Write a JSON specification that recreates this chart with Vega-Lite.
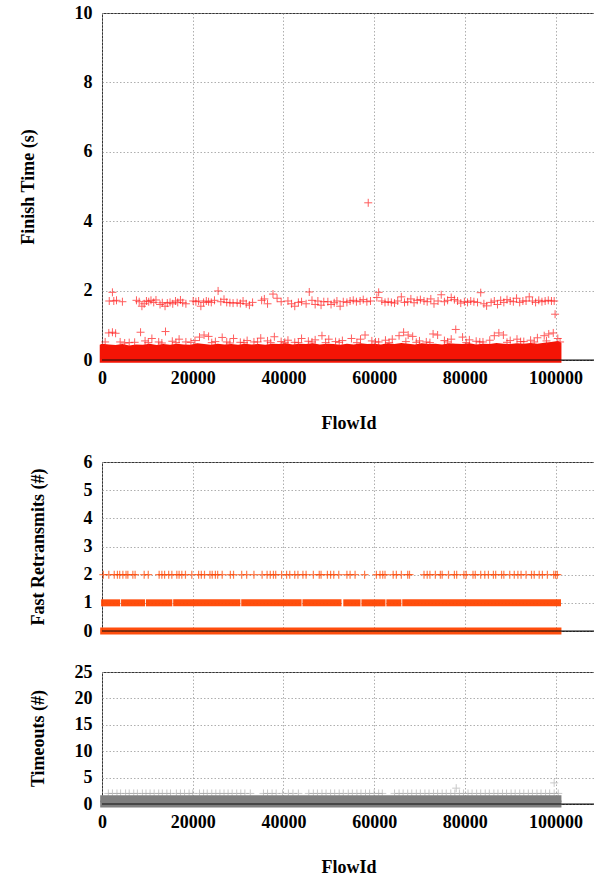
{
  "$schema": "https://vega.github.io/schema/vega-lite/v6.json",
  "padding": {"left": 18, "top": 3, "right": 0, "bottom": 0},
  "background": "white",
  "spacing": 19,
  "config": {
    "view": {"stroke": "#333", "strokeWidth": 1},
    "font": "Liberation Serif",
    "axis": {
      "labelFont": "Liberation Serif", "labelFontWeight": "bold", "labelFontSize": 18, "labelColor": "#000",
      "titleFont": "Liberation Serif", "titleFontWeight": "bold", "titleFontSize": 18, "titleColor": "#000",
      "grid": true, "gridColor": "#9a9a9a", "gridDash": [1.5, 2], "gridWidth": 0.8,
      "domain": false, "ticks": false, "labelFlush": false, "labelOverlap": false
    }
  },
  "datasets": {
    "band": [
      {"FlowId": -500, "FinishTime": 0.44}, {"FlowId": 0, "FinishTime": 0.47}, {"FlowId": 1500, "FinishTime": 0.45},
      {"FlowId": 3000, "FinishTime": 0.43}, {"FlowId": 4500, "FinishTime": 0.46}, {"FlowId": 6000, "FinishTime": 0.42},
      {"FlowId": 7500, "FinishTime": 0.45}, {"FlowId": 9000, "FinishTime": 0.44}, {"FlowId": 10500, "FinishTime": 0.47},
      {"FlowId": 12000, "FinishTime": 0.43}, {"FlowId": 13500, "FinishTime": 0.46}, {"FlowId": 15000, "FinishTime": 0.44},
      {"FlowId": 16500, "FinishTime": 0.47}, {"FlowId": 18000, "FinishTime": 0.45}, {"FlowId": 19500, "FinishTime": 0.44},
      {"FlowId": 21000, "FinishTime": 0.48}, {"FlowId": 22500, "FinishTime": 0.46}, {"FlowId": 24000, "FinishTime": 0.44},
      {"FlowId": 25500, "FinishTime": 0.47}, {"FlowId": 27000, "FinishTime": 0.45}, {"FlowId": 28500, "FinishTime": 0.46},
      {"FlowId": 30000, "FinishTime": 0.44}, {"FlowId": 31500, "FinishTime": 0.47}, {"FlowId": 33000, "FinishTime": 0.45},
      {"FlowId": 34500, "FinishTime": 0.46}, {"FlowId": 36000, "FinishTime": 0.44}, {"FlowId": 37500, "FinishTime": 0.47},
      {"FlowId": 39000, "FinishTime": 0.46}, {"FlowId": 40500, "FinishTime": 0.48}, {"FlowId": 42000, "FinishTime": 0.45},
      {"FlowId": 43500, "FinishTime": 0.47}, {"FlowId": 45000, "FinishTime": 0.46}, {"FlowId": 46500, "FinishTime": 0.48},
      {"FlowId": 48000, "FinishTime": 0.45}, {"FlowId": 49500, "FinishTime": 0.47}, {"FlowId": 51000, "FinishTime": 0.46},
      {"FlowId": 52500, "FinishTime": 0.44}, {"FlowId": 54000, "FinishTime": 0.47}, {"FlowId": 55500, "FinishTime": 0.45},
      {"FlowId": 57000, "FinishTime": 0.48}, {"FlowId": 58500, "FinishTime": 0.46}, {"FlowId": 60000, "FinishTime": 0.47},
      {"FlowId": 61500, "FinishTime": 0.45}, {"FlowId": 63000, "FinishTime": 0.48}, {"FlowId": 64500, "FinishTime": 0.46},
      {"FlowId": 66000, "FinishTime": 0.49}, {"FlowId": 67500, "FinishTime": 0.47}, {"FlowId": 69000, "FinishTime": 0.45},
      {"FlowId": 70500, "FinishTime": 0.48}, {"FlowId": 72000, "FinishTime": 0.46}, {"FlowId": 73500, "FinishTime": 0.47},
      {"FlowId": 75000, "FinishTime": 0.45}, {"FlowId": 76500, "FinishTime": 0.48}, {"FlowId": 78000, "FinishTime": 0.47},
      {"FlowId": 79500, "FinishTime": 0.46}, {"FlowId": 81000, "FinishTime": 0.48}, {"FlowId": 82500, "FinishTime": 0.45},
      {"FlowId": 84000, "FinishTime": 0.47}, {"FlowId": 85500, "FinishTime": 0.46}, {"FlowId": 87000, "FinishTime": 0.49},
      {"FlowId": 88500, "FinishTime": 0.47}, {"FlowId": 90000, "FinishTime": 0.46}, {"FlowId": 91500, "FinishTime": 0.48},
      {"FlowId": 93000, "FinishTime": 0.47}, {"FlowId": 94500, "FinishTime": 0.49}, {"FlowId": 96000, "FinishTime": 0.47},
      {"FlowId": 97500, "FinishTime": 0.5}, {"FlowId": 99000, "FinishTime": 0.52}, {"FlowId": 100500, "FinishTime": 0.55},
      {"FlowId": 101300, "FinishTime": 0.5}
    ],
    "ft": [
      {"FlowId": 1500, "FinishTime": 0.78}, {"FlowId": 2300, "FinishTime": 0.8}, {"FlowId": 3000, "FinishTime": 0.77},
      {"FlowId": 4000, "FinishTime": 0.52}, {"FlowId": 6000, "FinishTime": 0.5}, {"FlowId": 8500, "FinishTime": 0.8},
      {"FlowId": 9500, "FinishTime": 0.55}, {"FlowId": 11000, "FinishTime": 0.62}, {"FlowId": 12500, "FinishTime": 0.52},
      {"FlowId": 14000, "FinishTime": 0.82}, {"FlowId": 15500, "FinishTime": 0.54}, {"FlowId": 17000, "FinishTime": 0.6},
      {"FlowId": 18500, "FinishTime": 0.52}, {"FlowId": 20500, "FinishTime": 0.56}, {"FlowId": 21500, "FinishTime": 0.66},
      {"FlowId": 22500, "FinishTime": 0.72}, {"FlowId": 23500, "FinishTime": 0.68}, {"FlowId": 25000, "FinishTime": 0.53},
      {"FlowId": 26500, "FinishTime": 0.65}, {"FlowId": 27500, "FinishTime": 0.52}, {"FlowId": 29000, "FinishTime": 0.62},
      {"FlowId": 30500, "FinishTime": 0.51}, {"FlowId": 32000, "FinishTime": 0.56}, {"FlowId": 33500, "FinishTime": 0.52},
      {"FlowId": 35000, "FinishTime": 0.63}, {"FlowId": 36500, "FinishTime": 0.55}, {"FlowId": 38000, "FinishTime": 0.67},
      {"FlowId": 39500, "FinishTime": 0.53}, {"FlowId": 41000, "FinishTime": 0.57}, {"FlowId": 42500, "FinishTime": 0.51},
      {"FlowId": 44000, "FinishTime": 0.62}, {"FlowId": 45500, "FinishTime": 0.54}, {"FlowId": 47000, "FinishTime": 0.58},
      {"FlowId": 48500, "FinishTime": 0.7}, {"FlowId": 50000, "FinishTime": 0.6}, {"FlowId": 51500, "FinishTime": 0.53},
      {"FlowId": 53000, "FinishTime": 0.56}, {"FlowId": 55000, "FinishTime": 0.62}, {"FlowId": 57000, "FinishTime": 0.6},
      {"FlowId": 58000, "FinishTime": 0.72}, {"FlowId": 59500, "FinishTime": 0.55}, {"FlowId": 61000, "FinishTime": 0.52},
      {"FlowId": 62500, "FinishTime": 0.57}, {"FlowId": 64000, "FinishTime": 0.6}, {"FlowId": 65500, "FinishTime": 0.7},
      {"FlowId": 66500, "FinishTime": 0.8}, {"FlowId": 67500, "FinishTime": 0.72}, {"FlowId": 68500, "FinishTime": 0.68},
      {"FlowId": 70000, "FinishTime": 0.55}, {"FlowId": 71500, "FinishTime": 0.52}, {"FlowId": 73000, "FinishTime": 0.75},
      {"FlowId": 74000, "FinishTime": 0.72}, {"FlowId": 75500, "FinishTime": 0.56}, {"FlowId": 77000, "FinishTime": 0.6},
      {"FlowId": 78000, "FinishTime": 0.88}, {"FlowId": 79500, "FinishTime": 0.66}, {"FlowId": 81000, "FinishTime": 0.58},
      {"FlowId": 82500, "FinishTime": 0.54}, {"FlowId": 84000, "FinishTime": 0.52}, {"FlowId": 85500, "FinishTime": 0.57},
      {"FlowId": 86500, "FinishTime": 0.7}, {"FlowId": 87500, "FinishTime": 0.78}, {"FlowId": 88500, "FinishTime": 0.72},
      {"FlowId": 90000, "FinishTime": 0.56}, {"FlowId": 91500, "FinishTime": 0.6}, {"FlowId": 93000, "FinishTime": 0.53},
      {"FlowId": 94500, "FinishTime": 0.57}, {"FlowId": 96000, "FinishTime": 0.64}, {"FlowId": 97500, "FinishTime": 0.7},
      {"FlowId": 98500, "FinishTime": 0.75}, {"FlowId": 99500, "FinishTime": 0.78}, {"FlowId": 100500, "FinishTime": 0.62},
      {"FlowId": 700, "FinishTime": 0.52}, {"FlowId": 5000, "FinishTime": 0.49}, {"FlowId": 7200, "FinishTime": 0.51},
      {"FlowId": 10200, "FinishTime": 0.5}, {"FlowId": 13200, "FinishTime": 0.49}, {"FlowId": 16300, "FinishTime": 0.5},
      {"FlowId": 19600, "FinishTime": 0.51}, {"FlowId": 24200, "FinishTime": 0.5}, {"FlowId": 28200, "FinishTime": 0.49},
      {"FlowId": 31300, "FinishTime": 0.5}, {"FlowId": 34300, "FinishTime": 0.52}, {"FlowId": 37200, "FinishTime": 0.5},
      {"FlowId": 40300, "FinishTime": 0.51}, {"FlowId": 43300, "FinishTime": 0.5}, {"FlowId": 46300, "FinishTime": 0.52},
      {"FlowId": 49300, "FinishTime": 0.5}, {"FlowId": 52300, "FinishTime": 0.51}, {"FlowId": 56200, "FinishTime": 0.5},
      {"FlowId": 60300, "FinishTime": 0.52}, {"FlowId": 63300, "FinishTime": 0.5}, {"FlowId": 67000, "FinishTime": 0.53},
      {"FlowId": 69300, "FinishTime": 0.51}, {"FlowId": 72300, "FinishTime": 0.5}, {"FlowId": 76200, "FinishTime": 0.52},
      {"FlowId": 80300, "FinishTime": 0.5}, {"FlowId": 83300, "FinishTime": 0.52}, {"FlowId": 89300, "FinishTime": 0.51},
      {"FlowId": 92300, "FinishTime": 0.53}, {"FlowId": 95300, "FinishTime": 0.52}, {"FlowId": 98000, "FinishTime": 0.55},
      {"FlowId": 101000, "FinishTime": 0.52},
      {"FlowId": 1600, "FinishTime": 1.7}, {"FlowId": 2300, "FinishTime": 1.95}, {"FlowId": 2600, "FinishTime": 1.7},
      {"FlowId": 3200, "FinishTime": 1.72}, {"FlowId": 4500, "FinishTime": 1.68}, {"FlowId": 7600, "FinishTime": 1.72},
      {"FlowId": 8200, "FinishTime": 1.68}, {"FlowId": 8800, "FinishTime": 1.55}, {"FlowId": 9300, "FinishTime": 1.62},
      {"FlowId": 9800, "FinishTime": 1.7}, {"FlowId": 10300, "FinishTime": 1.68}, {"FlowId": 10800, "FinishTime": 1.72},
      {"FlowId": 11400, "FinishTime": 1.66}, {"FlowId": 11900, "FinishTime": 1.73}, {"FlowId": 12800, "FinishTime": 1.6},
      {"FlowId": 13300, "FinishTime": 1.65}, {"FlowId": 13900, "FinishTime": 1.55}, {"FlowId": 14400, "FinishTime": 1.64},
      {"FlowId": 15000, "FinishTime": 1.66}, {"FlowId": 15600, "FinishTime": 1.62}, {"FlowId": 16200, "FinishTime": 1.7},
      {"FlowId": 16700, "FinishTime": 1.66}, {"FlowId": 17300, "FinishTime": 1.73}, {"FlowId": 17800, "FinishTime": 1.65},
      {"FlowId": 18500, "FinishTime": 1.62}, {"FlowId": 20100, "FinishTime": 1.7}, {"FlowId": 20700, "FinishTime": 1.68},
      {"FlowId": 21300, "FinishTime": 1.7}, {"FlowId": 21800, "FinishTime": 1.55}, {"FlowId": 22400, "FinishTime": 1.66},
      {"FlowId": 23000, "FinishTime": 1.7}, {"FlowId": 23500, "FinishTime": 1.68}, {"FlowId": 24100, "FinishTime": 1.66},
      {"FlowId": 24800, "FinishTime": 1.72}, {"FlowId": 25600, "FinishTime": 1.99}, {"FlowId": 26200, "FinishTime": 1.68},
      {"FlowId": 26900, "FinishTime": 1.75}, {"FlowId": 27500, "FinishTime": 1.66}, {"FlowId": 28200, "FinishTime": 1.65},
      {"FlowId": 28900, "FinishTime": 1.64}, {"FlowId": 29800, "FinishTime": 1.65}, {"FlowId": 30500, "FinishTime": 1.63},
      {"FlowId": 31100, "FinishTime": 1.7}, {"FlowId": 31800, "FinishTime": 1.62}, {"FlowId": 32500, "FinishTime": 1.58},
      {"FlowId": 33200, "FinishTime": 1.66}, {"FlowId": 35200, "FinishTime": 1.72}, {"FlowId": 35800, "FinishTime": 1.76},
      {"FlowId": 36500, "FinishTime": 1.62}, {"FlowId": 37700, "FinishTime": 1.9}, {"FlowId": 38600, "FinishTime": 1.78},
      {"FlowId": 39500, "FinishTime": 1.68}, {"FlowId": 41000, "FinishTime": 1.7}, {"FlowId": 41800, "FinishTime": 1.62},
      {"FlowId": 42500, "FinishTime": 1.55}, {"FlowId": 43300, "FinishTime": 1.66}, {"FlowId": 44000, "FinishTime": 1.68},
      {"FlowId": 45000, "FinishTime": 1.62}, {"FlowId": 45700, "FinishTime": 1.96}, {"FlowId": 46300, "FinishTime": 1.72},
      {"FlowId": 47000, "FinishTime": 1.6}, {"FlowId": 47600, "FinishTime": 1.7}, {"FlowId": 48300, "FinishTime": 1.58},
      {"FlowId": 48900, "FinishTime": 1.68}, {"FlowId": 49800, "FinishTime": 1.68}, {"FlowId": 50500, "FinishTime": 1.6},
      {"FlowId": 51200, "FinishTime": 1.65}, {"FlowId": 51800, "FinishTime": 1.7}, {"FlowId": 52500, "FinishTime": 1.55},
      {"FlowId": 53200, "FinishTime": 1.68}, {"FlowId": 54000, "FinishTime": 1.66}, {"FlowId": 54700, "FinishTime": 1.7},
      {"FlowId": 55400, "FinishTime": 1.72}, {"FlowId": 56100, "FinishTime": 1.68}, {"FlowId": 56900, "FinishTime": 1.7},
      {"FlowId": 57600, "FinishTime": 1.74}, {"FlowId": 58400, "FinishTime": 1.68}, {"FlowId": 59200, "FinishTime": 1.7},
      {"FlowId": 60600, "FinishTime": 1.8}, {"FlowId": 61000, "FinishTime": 1.95}, {"FlowId": 61700, "FinishTime": 1.7},
      {"FlowId": 62400, "FinishTime": 1.66}, {"FlowId": 63100, "FinishTime": 1.68}, {"FlowId": 63800, "FinishTime": 1.66},
      {"FlowId": 64500, "FinishTime": 1.64}, {"FlowId": 65200, "FinishTime": 1.7}, {"FlowId": 66000, "FinishTime": 1.82},
      {"FlowId": 66700, "FinishTime": 1.66}, {"FlowId": 67400, "FinishTime": 1.68}, {"FlowId": 68100, "FinishTime": 1.76},
      {"FlowId": 68800, "FinishTime": 1.65}, {"FlowId": 69500, "FinishTime": 1.72}, {"FlowId": 70200, "FinishTime": 1.74},
      {"FlowId": 71000, "FinishTime": 1.7}, {"FlowId": 71700, "FinishTime": 1.68}, {"FlowId": 72500, "FinishTime": 1.76},
      {"FlowId": 73200, "FinishTime": 1.62}, {"FlowId": 74100, "FinishTime": 1.7}, {"FlowId": 74800, "FinishTime": 1.88},
      {"FlowId": 75500, "FinishTime": 1.68}, {"FlowId": 76200, "FinishTime": 1.72}, {"FlowId": 77000, "FinishTime": 1.8},
      {"FlowId": 77700, "FinishTime": 1.74}, {"FlowId": 78400, "FinishTime": 1.7}, {"FlowId": 79100, "FinishTime": 1.64},
      {"FlowId": 79900, "FinishTime": 1.68}, {"FlowId": 80600, "FinishTime": 1.66}, {"FlowId": 81300, "FinishTime": 1.7},
      {"FlowId": 82000, "FinishTime": 1.68}, {"FlowId": 82800, "FinishTime": 1.66}, {"FlowId": 83500, "FinishTime": 1.94},
      {"FlowId": 84200, "FinishTime": 1.62}, {"FlowId": 84800, "FinishTime": 1.56}, {"FlowId": 85800, "FinishTime": 1.66},
      {"FlowId": 86500, "FinishTime": 1.7}, {"FlowId": 87200, "FinishTime": 1.6}, {"FlowId": 87900, "FinishTime": 1.72},
      {"FlowId": 88600, "FinishTime": 1.66}, {"FlowId": 89300, "FinishTime": 1.74}, {"FlowId": 90000, "FinishTime": 1.7},
      {"FlowId": 90700, "FinishTime": 1.68}, {"FlowId": 91400, "FinishTime": 1.78}, {"FlowId": 92100, "FinishTime": 1.66},
      {"FlowId": 92800, "FinishTime": 1.7}, {"FlowId": 93500, "FinishTime": 1.7}, {"FlowId": 94200, "FinishTime": 1.82},
      {"FlowId": 94900, "FinishTime": 1.7}, {"FlowId": 95600, "FinishTime": 1.66}, {"FlowId": 96300, "FinishTime": 1.72},
      {"FlowId": 97000, "FinishTime": 1.68}, {"FlowId": 97700, "FinishTime": 1.7}, {"FlowId": 98400, "FinishTime": 1.72},
      {"FlowId": 99100, "FinishTime": 1.7}, {"FlowId": 99700, "FinishTime": 1.7}, {"FlowId": 99900, "FinishTime": 1.32},
      {"FlowId": 58700, "FinishTime": 4.53}
    ],
    "frRuns": [
      {"FlowId": -400, "FlowIdEnd": 101300, "FastRetransmits": 0},
      {"FlowId": -200, "FlowIdEnd": 4000, "FastRetransmits": 1}, {"FlowId": 4200, "FlowIdEnd": 9500, "FastRetransmits": 1},
      {"FlowId": 9700, "FlowIdEnd": 15500, "FastRetransmits": 1}, {"FlowId": 15700, "FlowIdEnd": 30500, "FastRetransmits": 1},
      {"FlowId": 30700, "FlowIdEnd": 44000, "FastRetransmits": 1}, {"FlowId": 44200, "FlowIdEnd": 52800, "FastRetransmits": 1},
      {"FlowId": 53200, "FlowIdEnd": 57000, "FastRetransmits": 1}, {"FlowId": 57200, "FlowIdEnd": 62500, "FastRetransmits": 1},
      {"FlowId": 62700, "FlowIdEnd": 66000, "FastRetransmits": 1}, {"FlowId": 66200, "FlowIdEnd": 101200, "FastRetransmits": 1}
    ],
    "fr": [
      {"FlowId": 300, "FastRetransmits": 2}, {"FlowId": 1500, "FastRetransmits": 2}, {"FlowId": 2700, "FastRetransmits": 2},
      {"FlowId": 3400, "FastRetransmits": 2}, {"FlowId": 3900, "FastRetransmits": 2}, {"FlowId": 4600, "FastRetransmits": 2},
      {"FlowId": 5300, "FastRetransmits": 2}, {"FlowId": 5700, "FastRetransmits": 2}, {"FlowId": 6800, "FastRetransmits": 2},
      {"FlowId": 7300, "FastRetransmits": 2}, {"FlowId": 9300, "FastRetransmits": 2}, {"FlowId": 10200, "FastRetransmits": 2},
      {"FlowId": 12600, "FastRetransmits": 2}, {"FlowId": 13200, "FastRetransmits": 2}, {"FlowId": 13800, "FastRetransmits": 2},
      {"FlowId": 14700, "FastRetransmits": 2}, {"FlowId": 15400, "FastRetransmits": 2}, {"FlowId": 16500, "FastRetransmits": 2},
      {"FlowId": 17000, "FastRetransmits": 2}, {"FlowId": 17600, "FastRetransmits": 2}, {"FlowId": 18400, "FastRetransmits": 2},
      {"FlowId": 19800, "FastRetransmits": 2}, {"FlowId": 21300, "FastRetransmits": 2}, {"FlowId": 21900, "FastRetransmits": 2},
      {"FlowId": 22600, "FastRetransmits": 2}, {"FlowId": 23800, "FastRetransmits": 2}, {"FlowId": 24300, "FastRetransmits": 2},
      {"FlowId": 25000, "FastRetransmits": 2}, {"FlowId": 25500, "FastRetransmits": 2}, {"FlowId": 26500, "FastRetransmits": 2},
      {"FlowId": 28300, "FastRetransmits": 2}, {"FlowId": 29000, "FastRetransmits": 2}, {"FlowId": 30800, "FastRetransmits": 2},
      {"FlowId": 31900, "FastRetransmits": 2}, {"FlowId": 33500, "FastRetransmits": 2},
      {"FlowId": 35300, "FastRetransmits": 2}, {"FlowId": 36400, "FastRetransmits": 2}, {"FlowId": 37100, "FastRetransmits": 2},
      {"FlowId": 37800, "FastRetransmits": 2}, {"FlowId": 38300, "FastRetransmits": 2}, {"FlowId": 39600, "FastRetransmits": 2},
      {"FlowId": 40700, "FastRetransmits": 2}, {"FlowId": 41400, "FastRetransmits": 2}, {"FlowId": 42500, "FastRetransmits": 2},
      {"FlowId": 43200, "FastRetransmits": 2}, {"FlowId": 44300, "FastRetransmits": 2}, {"FlowId": 45000, "FastRetransmits": 2},
      {"FlowId": 46600, "FastRetransmits": 2}, {"FlowId": 47900, "FastRetransmits": 2}, {"FlowId": 48300, "FastRetransmits": 2},
      {"FlowId": 49700, "FastRetransmits": 2}, {"FlowId": 50400, "FastRetransmits": 2}, {"FlowId": 51100, "FastRetransmits": 2},
      {"FlowId": 52200, "FastRetransmits": 2}, {"FlowId": 54000, "FastRetransmits": 2},
      {"FlowId": 54700, "FastRetransmits": 2}, {"FlowId": 55800, "FastRetransmits": 2}, {"FlowId": 57900, "FastRetransmits": 2},
      {"FlowId": 60500, "FastRetransmits": 2}, {"FlowId": 61300, "FastRetransmits": 2}, {"FlowId": 61900, "FastRetransmits": 2},
      {"FlowId": 62400, "FastRetransmits": 2}, {"FlowId": 64200, "FastRetransmits": 2}, {"FlowId": 64900, "FastRetransmits": 2},
      {"FlowId": 66000, "FastRetransmits": 2}, {"FlowId": 67400, "FastRetransmits": 2}, {"FlowId": 67800, "FastRetransmits": 2},
      {"FlowId": 71000, "FastRetransmits": 2}, {"FlowId": 71700, "FastRetransmits": 2}, {"FlowId": 72300, "FastRetransmits": 2},
      {"FlowId": 73500, "FastRetransmits": 2}, {"FlowId": 74600, "FastRetransmits": 2}, {"FlowId": 75000, "FastRetransmits": 2},
      {"FlowId": 76400, "FastRetransmits": 2}, {"FlowId": 77700, "FastRetransmits": 2}, {"FlowId": 78200, "FastRetransmits": 2},
      {"FlowId": 79800, "FastRetransmits": 2}, {"FlowId": 80300, "FastRetransmits": 2}, {"FlowId": 81800, "FastRetransmits": 2},
      {"FlowId": 82300, "FastRetransmits": 2}, {"FlowId": 83500, "FastRetransmits": 2}, {"FlowId": 84400, "FastRetransmits": 2},
      {"FlowId": 85200, "FastRetransmits": 2}, {"FlowId": 86300, "FastRetransmits": 2}, {"FlowId": 86800, "FastRetransmits": 2},
      {"FlowId": 88100, "FastRetransmits": 2}, {"FlowId": 88600, "FastRetransmits": 2}, {"FlowId": 89900, "FastRetransmits": 2},
      {"FlowId": 90900, "FastRetransmits": 2}, {"FlowId": 91700, "FastRetransmits": 2}, {"FlowId": 92400, "FastRetransmits": 2},
      {"FlowId": 93500, "FastRetransmits": 2}, {"FlowId": 94700, "FastRetransmits": 2}, {"FlowId": 95300, "FastRetransmits": 2},
      {"FlowId": 96400, "FastRetransmits": 2}, {"FlowId": 97100, "FastRetransmits": 2}, {"FlowId": 98200, "FastRetransmits": 2},
      {"FlowId": 99600, "FastRetransmits": 2}, {"FlowId": 100000, "FastRetransmits": 2}, {"FlowId": 100400, "FastRetransmits": 2}
    ],
    "toRuns": [
      {"FlowId": -400, "FlowIdEnd": 101300, "Timeouts": 0},
      {"FlowId": -400, "FlowIdEnd": 101300, "Timeouts": 1}
    ],
    "to": [
      {"FlowId": 1400, "Timeouts": 2}, {"FlowId": 2300, "Timeouts": 2}, {"FlowId": 3300, "Timeouts": 2}, {"FlowId": 4100, "Timeouts": 2},
      {"FlowId": 5200, "Timeouts": 2}, {"FlowId": 6000, "Timeouts": 2}, {"FlowId": 7000, "Timeouts": 2}, {"FlowId": 7800, "Timeouts": 2},
      {"FlowId": 8900, "Timeouts": 2}, {"FlowId": 9700, "Timeouts": 2}, {"FlowId": 10600, "Timeouts": 2}, {"FlowId": 11500, "Timeouts": 2},
      {"FlowId": 12500, "Timeouts": 2}, {"FlowId": 13300, "Timeouts": 2}, {"FlowId": 14300, "Timeouts": 2}, {"FlowId": 15100, "Timeouts": 2},
      {"FlowId": 16400, "Timeouts": 2}, {"FlowId": 17300, "Timeouts": 2}, {"FlowId": 18200, "Timeouts": 2}, {"FlowId": 19200, "Timeouts": 2},
      {"FlowId": 20000, "Timeouts": 2}, {"FlowId": 21500, "Timeouts": 2}, {"FlowId": 22400, "Timeouts": 2}, {"FlowId": 23200, "Timeouts": 2},
      {"FlowId": 24200, "Timeouts": 2}, {"FlowId": 25100, "Timeouts": 2}, {"FlowId": 26000, "Timeouts": 2}, {"FlowId": 26900, "Timeouts": 2},
      {"FlowId": 27800, "Timeouts": 2}, {"FlowId": 28700, "Timeouts": 2}, {"FlowId": 29700, "Timeouts": 2}, {"FlowId": 30600, "Timeouts": 2},
      {"FlowId": 31500, "Timeouts": 2}, {"FlowId": 32700, "Timeouts": 2}, {"FlowId": 35600, "Timeouts": 2}, {"FlowId": 36500, "Timeouts": 2},
      {"FlowId": 37500, "Timeouts": 2}, {"FlowId": 38400, "Timeouts": 2}, {"FlowId": 39800, "Timeouts": 2}, {"FlowId": 41100, "Timeouts": 2},
      {"FlowId": 42100, "Timeouts": 2}, {"FlowId": 43300, "Timeouts": 2}, {"FlowId": 45600, "Timeouts": 2}, {"FlowId": 46600, "Timeouts": 2},
      {"FlowId": 47500, "Timeouts": 2}, {"FlowId": 48500, "Timeouts": 2}, {"FlowId": 49400, "Timeouts": 2}, {"FlowId": 50400, "Timeouts": 2},
      {"FlowId": 51300, "Timeouts": 2}, {"FlowId": 52300, "Timeouts": 2}, {"FlowId": 53200, "Timeouts": 2}, {"FlowId": 54300, "Timeouts": 2},
      {"FlowId": 55200, "Timeouts": 2}, {"FlowId": 56200, "Timeouts": 2}, {"FlowId": 57100, "Timeouts": 2}, {"FlowId": 58100, "Timeouts": 2},
      {"FlowId": 59000, "Timeouts": 2}, {"FlowId": 60000, "Timeouts": 2}, {"FlowId": 61000, "Timeouts": 2}, {"FlowId": 61800, "Timeouts": 2},
      {"FlowId": 64500, "Timeouts": 2}, {"FlowId": 65500, "Timeouts": 2}, {"FlowId": 66400, "Timeouts": 2}, {"FlowId": 67400, "Timeouts": 2},
      {"FlowId": 68300, "Timeouts": 2}, {"FlowId": 69300, "Timeouts": 2}, {"FlowId": 70200, "Timeouts": 2}, {"FlowId": 71200, "Timeouts": 2},
      {"FlowId": 72100, "Timeouts": 2}, {"FlowId": 73100, "Timeouts": 2}, {"FlowId": 74000, "Timeouts": 2}, {"FlowId": 75000, "Timeouts": 2},
      {"FlowId": 75900, "Timeouts": 2}, {"FlowId": 76900, "Timeouts": 2}, {"FlowId": 77800, "Timeouts": 2}, {"FlowId": 78800, "Timeouts": 2},
      {"FlowId": 79700, "Timeouts": 2}, {"FlowId": 80700, "Timeouts": 2}, {"FlowId": 81600, "Timeouts": 2}, {"FlowId": 82600, "Timeouts": 2},
      {"FlowId": 83500, "Timeouts": 2}, {"FlowId": 84500, "Timeouts": 2}, {"FlowId": 85400, "Timeouts": 2}, {"FlowId": 86400, "Timeouts": 2},
      {"FlowId": 87300, "Timeouts": 2}, {"FlowId": 88300, "Timeouts": 2}, {"FlowId": 89200, "Timeouts": 2}, {"FlowId": 90200, "Timeouts": 2},
      {"FlowId": 91100, "Timeouts": 2}, {"FlowId": 92100, "Timeouts": 2}, {"FlowId": 93000, "Timeouts": 2}, {"FlowId": 94000, "Timeouts": 2},
      {"FlowId": 94900, "Timeouts": 2}, {"FlowId": 95900, "Timeouts": 2}, {"FlowId": 96800, "Timeouts": 2}, {"FlowId": 97800, "Timeouts": 2},
      {"FlowId": 98700, "Timeouts": 2}, {"FlowId": 99700, "Timeouts": 2}, {"FlowId": 100600, "Timeouts": 2},
      {"FlowId": 78100, "Timeouts": 3}, {"FlowId": 99700, "Timeouts": 4}
    ]
  },
  "vconcat": [
    {
      "width": 493,
      "height": 347,
      "layer": [
        {
          "data": {"name": "band"},
          "mark": {"type": "area", "color": "#f41405", "opacity": 1},
          "encoding": {
            "x": {"field": "FlowId", "type": "quantitative", "scale": {"domain": [0, 108700], "nice": false, "zero": false},
                  "axis": {"values": [0, 20000, 40000, 60000, 80000, 100000], "format": "d", "title": "FlowId", "labelPadding": 9, "titlePadding": 27}},
            "y": {"field": "FinishTime", "type": "quantitative", "scale": {"domain": [0, 10], "nice": false},
                  "axis": {"values": [0, 2, 4, 6, 8, 10], "title": "Finish Time (s)", "labelPadding": 10, "titlePadding": 37}},
            "y2": {"datum": -0.08}
          }
        },
        {
          "data": {"name": "ft"},
          "mark": {"type": "point", "shape": "M-1,0H1M0,-1V1", "filled": false, "size": 64, "strokeWidth": 1, "color": "#ff1a1a", "opacity": 0.7},
          "encoding": {
            "x": {"field": "FlowId", "type": "quantitative"},
            "y": {"field": "FinishTime", "type": "quantitative"}
          }
        },
        {
          "data": {"values": [{}]},
          "mark": {"type": "rule", "color": "#111", "strokeWidth": 1.2},
          "encoding": {"y": {"datum": 0, "type": "quantitative", "axis": {"values": [0, 2, 4, 6, 8, 10], "title": "Finish Time (s)", "labelPadding": 10, "titlePadding": 37}}}
        }
      ]
    },
    {
      "spacing": 21,
      "vconcat": [
        {
          "width": 493,
          "height": 169,
          "layer": [
            {
              "data": {"name": "frRuns"},
              "mark": {"type": "rule", "color": "#ff4500", "strokeWidth": 7, "opacity": 0.95},
              "encoding": {
                "x": {"field": "FlowId", "type": "quantitative", "scale": {"domain": [0, 108700], "nice": false, "zero": false},
                      "axis": {"values": [0, 20000, 40000, 60000, 80000, 100000], "labels": false, "title": null}},
                "x2": {"field": "FlowIdEnd"},
                "y": {"field": "FastRetransmits", "type": "quantitative", "scale": {"domain": [0, 6], "nice": false},
                      "axis": {"values": [0, 1, 2, 3, 4, 5, 6], "title": "Fast Retransmits (#)", "labelPadding": 10, "titlePadding": 36}}
              }
            },
            {
              "data": {"name": "fr"},
              "mark": {"type": "point", "shape": "M-1,0H1M0,-1V1", "filled": false, "size": 64, "strokeWidth": 1.2, "color": "#ff4500", "opacity": 0.7},
              "encoding": {
                "x": {"field": "FlowId", "type": "quantitative"},
                "y": {"field": "FastRetransmits", "type": "quantitative",
                      "axis": {"values": [0, 1, 2, 3, 4, 5, 6], "title": "Fast Retransmits (#)", "labelPadding": 10, "titlePadding": 36}}
              }
            },
            {
              "data": {"values": [{}]},
              "mark": {"type": "rule", "color": "#111", "strokeWidth": 1.2},
              "encoding": {"y": {"datum": 0, "type": "quantitative", "axis": {"values": [0, 1, 2, 3, 4, 5, 6], "title": "Fast Retransmits (#)", "labelPadding": 10, "titlePadding": 36}}}
            }
          ]
        },
        {
          "width": 493,
          "height": 132,
          "layer": [
            {
              "data": {"name": "toRuns"},
              "mark": {"type": "rule", "color": "#7f7f7f", "strokeWidth": 7},
              "encoding": {
                "x": {"field": "FlowId", "type": "quantitative", "scale": {"domain": [0, 108700], "nice": false, "zero": false},
                      "axis": {"values": [0, 20000, 40000, 60000, 80000, 100000], "format": "d", "title": "FlowId", "labelPadding": 9, "titlePadding": 27}},
                "x2": {"field": "FlowIdEnd"},
                "y": {"field": "Timeouts", "type": "quantitative", "scale": {"domain": [0, 25], "nice": false},
                      "axis": {"values": [0, 5, 10, 15, 20, 25], "title": "Timeouts (#)", "labelPadding": 10, "titlePadding": 27}}
              }
            },
            {
              "data": {"name": "to"},
              "mark": {"type": "point", "shape": "M-1,0H1M0,-1V1", "filled": false, "size": 64, "strokeWidth": 1, "color": "#888", "opacity": 0.45},
              "encoding": {
                "x": {"field": "FlowId", "type": "quantitative"},
                "y": {"field": "Timeouts", "type": "quantitative",
                      "axis": {"values": [0, 5, 10, 15, 20, 25], "title": "Timeouts (#)", "labelPadding": 10, "titlePadding": 27}}
              }
            },
            {
              "data": {"values": [{}]},
              "mark": {"type": "rule", "color": "#111", "strokeWidth": 1.2},
              "encoding": {"y": {"datum": 0, "type": "quantitative", "axis": {"values": [0, 5, 10, 15, 20, 25], "title": "Timeouts (#)", "labelPadding": 10, "titlePadding": 27}}}
            }
          ]
        }
      ]
    }
  ]
}
